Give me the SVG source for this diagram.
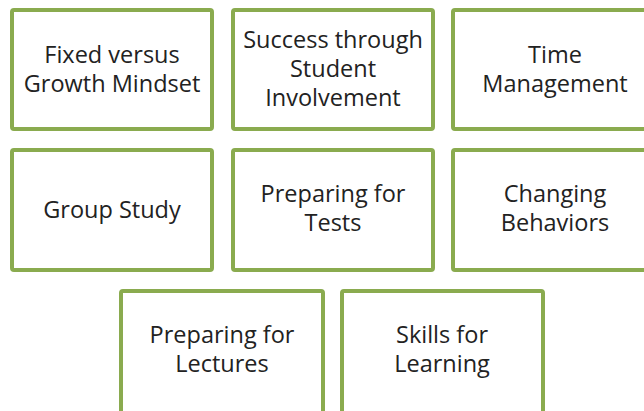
<svg xmlns="http://www.w3.org/2000/svg" width="644" height="411" viewBox="0 0 644 411">
  <style>
    .box { fill: #ffffff; stroke: #8aab4f; stroke-width: 4; }
    .lbl { font-family: "Open Sans", "Liberation Sans", sans-serif; font-size: 23.5px; fill: #222222; text-anchor: middle; }
  </style>
  <rect x="0" y="0" width="644" height="411" fill="#ffffff"/>

  <g id="fixed-growth">
    <rect class="box" x="12" y="10" width="200" height="119" rx="2"/>
    <text class="lbl" x="112" y="63">Fixed versus</text>
    <text class="lbl" x="112" y="92">Growth Mindset</text>
  </g>
  <g id="student-involvement">
    <rect class="box" x="233" y="10" width="200" height="119" rx="2"/>
    <text class="lbl" x="333" y="48">Success through</text>
    <text class="lbl" x="333" y="77">Student</text>
    <text class="lbl" x="333" y="106">Involvement</text>
  </g>
  <g id="time-management">
    <rect class="box" x="453" y="10" width="200" height="119" rx="2"/>
    <text class="lbl" x="555" y="63">Time</text>
    <text class="lbl" x="555" y="92">Management</text>
  </g>

  <g id="group-study">
    <rect class="box" x="12" y="150" width="200" height="120" rx="2"/>
    <text class="lbl" x="112" y="218">Group Study</text>
  </g>
  <g id="preparing-tests">
    <rect class="box" x="233" y="150" width="200" height="120" rx="2"/>
    <text class="lbl" x="333" y="202">Preparing for</text>
    <text class="lbl" x="333" y="231">Tests</text>
  </g>
  <g id="changing-behaviors">
    <rect class="box" x="453" y="150" width="200" height="120" rx="2"/>
    <text class="lbl" x="555" y="202">Changing</text>
    <text class="lbl" x="555" y="231">Behaviors</text>
  </g>

  <g id="preparing-lectures">
    <rect class="box" x="121" y="291" width="202" height="130" rx="2"/>
    <text class="lbl" x="222" y="343">Preparing for</text>
    <text class="lbl" x="222" y="372">Lectures</text>
  </g>
  <g id="skills-learning">
    <rect class="box" x="342" y="291" width="201" height="130" rx="2"/>
    <text class="lbl" x="442" y="343">Skills for</text>
    <text class="lbl" x="442" y="372">Learning</text>
  </g>
</svg>
